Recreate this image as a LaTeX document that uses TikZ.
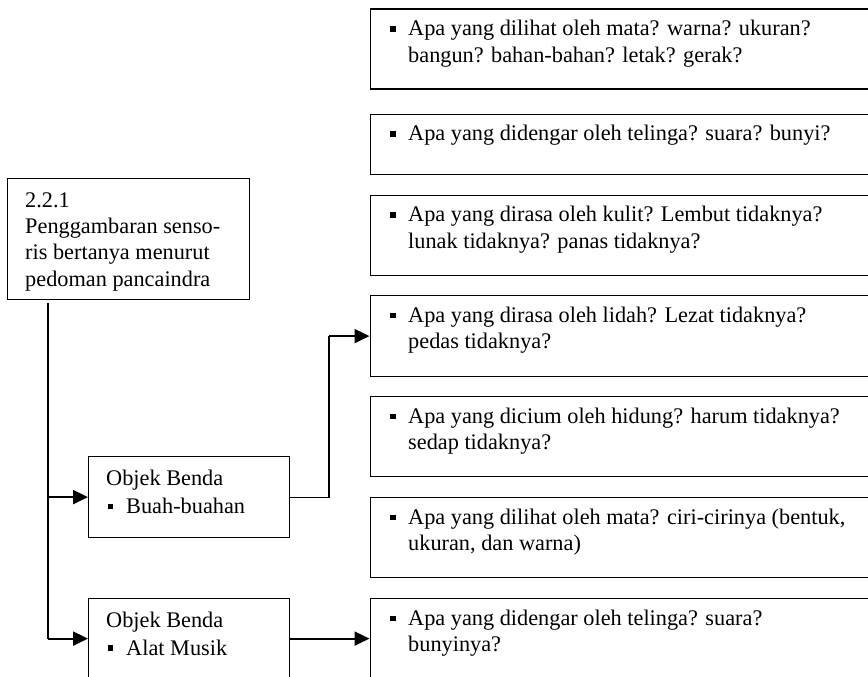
\documentclass[tikz,border=0pt]{standalone}
\usepackage{fontspec}
\setmainfont{Liberation Serif}
\usetikzlibrary{arrows.meta}
\newcommand\bul{\rule[4.2pt]{5.6pt}{5.6pt}}
\newcommand\bitem{\makebox[18pt][l]{\bul}}
\newcommand\bindent{\hspace*{18pt}}
\begin{document}
\begin{tikzpicture}[x=1pt,y=-1pt,
  box/.style={draw,line width=1.2pt,inner sep=0pt,anchor=north west},
  txt/.style={inner sep=0pt,anchor=north west,align=left,font=\fontsize{22.3}{26.4}\selectfont},
  txtb/.style={inner sep=0pt,anchor=north west,align=left,font=\fontsize{22.3}{28.2}\selectfont},
  thinline/.style={line width=1.1pt},
  arr/.style={line width=2.1pt,-{Triangle[length=15pt,width=14pt]}}]
\useasboundingbox (0,0) rectangle (868,677);
\clip (0,0) rectangle (868,677);

% main box
\node[box,minimum width=242pt,minimum height=121pt] (main) at (7,178) {};
\node[txt] (maintxt) at (25,188.5) {\strut 2.2.1\\Penggambaran senso-\\ris bertanya menurut\\pedoman pancaindra};

% object boxes
\node[box,minimum width=201pt,minimum height=81pt] (buah) at (88,456) {};
\node[txtb] (buahtxt) at (106,465.4) {\strut Objek Benda\\\hspace*{1.5pt}\makebox[18.5pt][l]{\bul}Buah-buahan};
\node[box,minimum width=201pt,minimum height=80pt] (alat) at (88,598) {};
\node[txtb] (alattxt) at (106,607.1) {\strut Objek Benda\\\hspace*{1.5pt}\makebox[18.5pt][l]{\bul}Alat Musik};

% right boxes
\node[box,minimum width=520pt,minimum height=80pt] (b1) at (369.5,8.5) {};
\node[txt] (t1) at (390,17.3) {\strut\bitem Apa yang dilihat oleh mata? warna? ukuran?\\\bindent bangun? bahan-bahan? letak? gerak?};
\node[box,minimum width=520pt,minimum height=60pt] (b2) at (369.5,113.5) {};
\node[txt] (t2) at (390,122.3) {\strut\bitem Apa yang didengar oleh telinga? suara? bunyi?};
\node[box,minimum width=520pt,minimum height=80.5pt] (b3) at (369.5,194.5) {};
\node[txt] (t3) at (390,203.3) {\strut\bitem Apa yang dirasa oleh kulit? Lembut tidaknya?\\\bindent lunak tidaknya? panas tidaknya?};
\node[box,minimum width=520pt,minimum height=81pt] (b4) at (369.5,295) {};
\node[txt] (t4) at (390,303.8) {\strut\bitem Apa yang dirasa oleh lidah? Lezat tidaknya?\\\bindent pedas tidaknya?};
\node[box,minimum width=520pt,minimum height=80pt] (b5) at (369.5,396) {};
\node[txt] (t5) at (390,404.8) {\strut\bitem Apa yang dicium oleh hidung? harum tidaknya?\\\bindent sedap tidaknya?};
\node[box,minimum width=520pt,minimum height=80pt] (b6) at (369.5,497) {};
\node[txt] (t6) at (390,505.8) {\strut\bitem Apa yang dilihat oleh mata? ciri-cirinya (bentuk,\\\bindent ukuran, dan warna)};
\node[box,minimum width=520pt,minimum height=80pt] (b7) at (369.5,598) {};
\node[txt] (t7) at (390,606.8) {\strut\bitem Apa yang didengar oleh telinga? suara?\\\bindent bunyinya?};

% connectors
\coordinate (trunk) at (48,303);
\coordinate (kx) at (329,0);
\draw[thinline] (trunk) -- (trunk |- alat.west);
\draw[arr] (trunk |- buah.west) -- (buah.west);
\draw[arr] (trunk |- alat.west) -- (alat.west);
\draw[thinline] (buah.east) -| (kx |- b4.west);
\draw[arr] (kx |- b4.west) -- (b4.west);
\draw[arr] (alat.east) -- (b7.west);
\end{tikzpicture}
\end{document}
